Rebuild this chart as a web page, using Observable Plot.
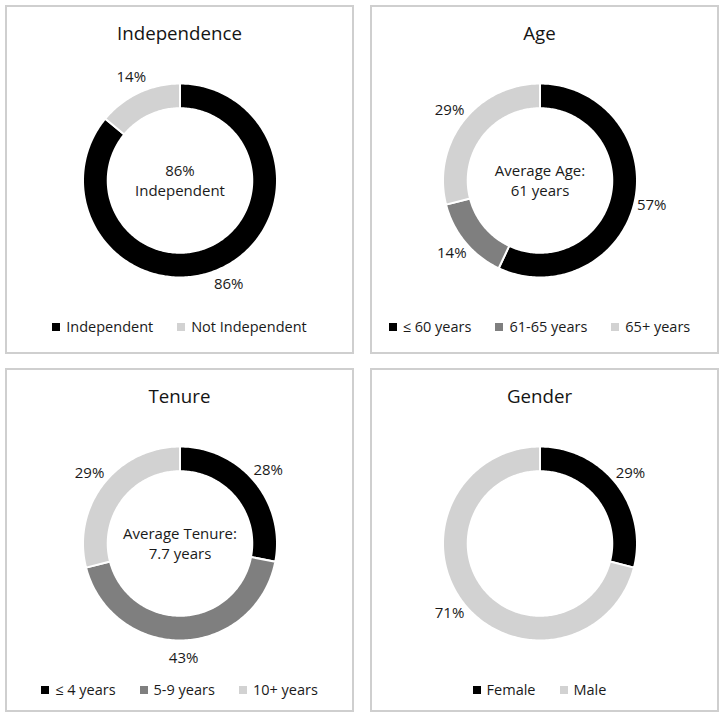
<!DOCTYPE html>
<html>
<head>
<meta charset="utf-8">
<script src="https://cdn.jsdelivr.net/npm/d3@7"></script>
<script src="https://cdn.jsdelivr.net/npm/@observablehq/plot@0.6"></script>
<style>
  html, body { margin: 0; padding: 0; background: #fff; }
  body { width: 725px; height: 722px; position: relative; overflow: hidden;
         font-family: "Open Sans", "Noto Sans", sans-serif; color: #1a1a1a; }
  .panel { position: absolute; box-sizing: border-box; border: 2px solid #cfcfcf; background: #fff; }
  .title { position: absolute; left: 0; right: 0; text-align: center; font-size: 18.7px; line-height: 24px; color: #141414; }
  .chart { position: absolute; left: 0; }
  .legend { position: absolute; left: 0; right: 0; display: flex; justify-content: center; align-items: center;
            font-size: 14.5px; line-height: 20px; color: #1a1a1a; gap: 24px; }
  .item { display: flex; align-items: center; gap: 6px; }
  .sw { width: 8px; height: 8px; display: inline-block; }
</style>
</head>
<body>
<script>
// ---- Data ----
const independenceCategories = ["Independent", "Not Independent"];
const independenceValues = [86, 14];
const independenceLabels = ["86%", "14%"];

const ageCategories = ["≤ 60 years", "61-65 years", "65+ years"];
const ageValues = [57, 14, 29];
const ageLabels = ["57%", "14%", "29%"];

const tenureCategories = ["≤ 4 years", "5-9 years", "10+ years"];
const tenureValues = [28, 43, 29];
const tenureLabels = ["28%", "43%", "29%"];

const genderCategories = ["Female", "Male"];
const genderValues = [29, 71];
const genderLabels = ["29%", "71%"];

const titles = ["Independence", "Age", "Tenure", "Gender"];
const centerTexts = ["86%\nIndependent", "Average Age:\n61 years", "Average Tenure:\n7.7 years", ""];

// ---- Styles ----
const black = "#000000", midGray = "#7f7f7f", lightGray = "#d2d2d2";
const panelBoxes = [
  {left: 5, top: 5, width: 349, height: 349, cx: 0},
  {left: 370, top: 5, width: 349, height: 349, cx: -5},
  {left: 5, top: 368, width: 349, height: 344, cx: 0},
  {left: 370, top: 368, width: 349, height: 344, cx: -5}
];
const R = 97;             // outer radius px
const innerRatio = 0.745; // inner / outer
const labelRadius = 1.18;

const panels = [
  {cats: independenceCategories, vals: independenceValues, labels: independenceLabels, colors: [black, lightGray]},
  {cats: ageCategories, vals: ageValues, labels: ageLabels, colors: [black, midGray, lightGray]},
  {cats: tenureCategories, vals: tenureValues, labels: tenureLabels, colors: [black, midGray, lightGray]},
  {cats: genderCategories, vals: genderValues, labels: genderLabels, colors: [black, lightGray]}
];

panels.forEach((p, i) => {
  const box = panelBoxes[i];
  const div = document.createElement("div");
  div.className = "panel";
  Object.assign(div.style, {left: box.left + "px", top: box.top + "px", width: box.width + "px", height: box.height + "px"});
  document.body.appendChild(div);

  const title = document.createElement("div");
  title.className = "title";
  title.style.top = "14px";
  title.style.left = (2 * box.cx) + "px";
  title.textContent = titles[i];
  div.appendChild(title);

  const innerW = box.width - 4;
  const chartH = 270;
  const cy = 173; // center y within panel content
  const rows = p.cats.map((c, k) => ({cat: c, value: p.vals[k], label: p.labels[k]}));
  const arcs = d3.pie().sort(null).value(d => d.value)(rows);

  const poly = [];
  const labels = [];
  arcs.forEach(a => {
    const n = Math.max(2, Math.ceil((a.endAngle - a.startAngle) / (Math.PI / 180)));
    const pts = [];
    for (let j = 0; j <= n; j++) {
      const t = a.startAngle + (a.endAngle - a.startAngle) * j / n;
      pts.push({cat: a.data.cat, x: Math.sin(t), y: Math.cos(t)});
    }
    for (let j = n; j >= 0; j--) {
      const t = a.startAngle + (a.endAngle - a.startAngle) * j / n;
      pts.push({cat: a.data.cat, x: innerRatio * Math.sin(t), y: innerRatio * Math.cos(t)});
    }
    pts.push(pts[0]);
    poly.push(...pts);
    const m = (a.startAngle + a.endAngle) / 2;
    labels.push({x: labelRadius * Math.sin(m), y: labelRadius * Math.cos(m), text: a.data.label});
  });

  const hx = innerW / 2 / R, hy = chartH / 2 / R;
  const cxu = box.cx / R;
  const svg = Plot.plot({
    width: innerW, height: chartH, margin: 0,
    style: {fontFamily: '"Open Sans", sans-serif', background: "transparent", color: "#1a1a1a"},
    x: {domain: [-hx - cxu, hx - cxu], axis: null},
    y: {domain: [-hy, hy], axis: null},
    color: {domain: p.cats, range: p.colors},
    marks: [
      Plot.line(poly, {x: "x", y: "y", z: "cat", fill: "cat", stroke: "white", strokeWidth: 2, curve: "linear"}),
      Plot.text(labels, {x: "x", y: "y", text: "text", fontSize: 15, fill: "#1a1a1a"}),
      Plot.text([centerTexts[i]], {x: () => 0, y: () => 0, text: d => d, fontSize: 15, lineHeight: 1.35, fill: "#1a1a1a", dy: -1})
    ]
  });
  svg.classList.add("chart");
  svg.style.top = (cy - chartH / 2) + "px";
  div.appendChild(svg);

  const legend = document.createElement("div");
  legend.className = "legend";
  legend.style.top = (320 - 10) + "px";
  legend.style.left = (2 * box.cx) + "px";
  p.cats.forEach((c, k) => {
    const it = document.createElement("span");
    it.className = "item";
    const sw = document.createElement("span");
    sw.className = "sw";
    sw.style.background = p.colors[k];
    it.appendChild(sw);
    const tx = document.createElement("span");
    tx.textContent = c;
    it.appendChild(tx);
    legend.appendChild(it);
  });
  div.appendChild(legend);
});
</script>
</body>
</html>
